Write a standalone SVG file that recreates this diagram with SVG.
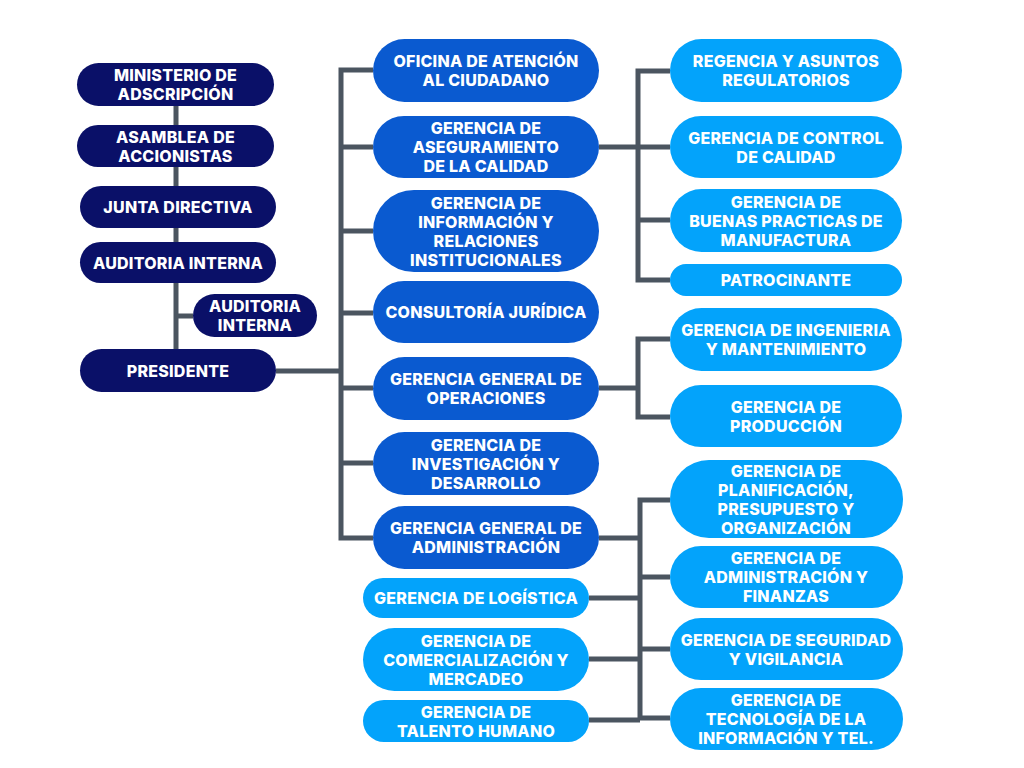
<svg xmlns="http://www.w3.org/2000/svg" width="1024" height="768" viewBox="0 0 1024 768">
<style>
.n{fill:#0a1068}
.m{fill:#0a5ad0}
.l{fill:#03a3fb}
text{font-family:Inter,"Liberation Sans",sans-serif;font-weight:800;font-size:16px;letter-spacing:0.25px;fill:#ffffff;text-anchor:middle}
.c{fill:none;stroke:#4b5560;stroke-width:5;stroke-linejoin:miter}
</style>
<rect width="1024" height="768" fill="#ffffff"/>
<g id="connectors" class="c">
<path d="M176 106V349M176 316H193"/>
<path d="M276 371H341"/>
<path d="M373 70H341V538H373M341 147H373M341 231H373M341 313H373M341 388H373M341 463H373"/>
<path d="M599 147H638M670 71H638V280H670M638 147H670M638 220H670"/>
<path d="M599 388H638M670 339H638V417H670"/>
<path d="M670 500H640V718H670M640 577H670M640 649H670M599 538H640M589 598H640M589 659H640M589 720H640"/>
</g>
<g id="ministerio"><rect class="n" x="77" y="63" width="197" height="43" rx="21.5"/><text x="175.5" y="81">MINISTERIO DE</text><text x="175.5" y="100">ADSCRIPCIÓN</text></g>
<g id="asamblea"><rect class="n" x="77" y="125" width="197" height="42" rx="21"/><text x="175.5" y="142.5">ASAMBLEA DE</text><text x="175.5" y="161.5">ACCIONISTAS</text></g>
<g id="junta"><rect class="n" x="80" y="186" width="196" height="42" rx="21"/><text x="178" y="213">JUNTA DIRECTIVA</text></g>
<g id="auditoria1"><rect class="n" x="80" y="242" width="196" height="41" rx="20.5"/><text x="178" y="268.5">AUDITORIA INTERNA</text></g>
<g id="auditoria2"><rect class="n" x="193" y="294" width="124" height="43" rx="21.5"/><text x="255" y="312">AUDITORIA</text><text x="255" y="331">INTERNA</text></g>
<g id="presidente"><rect class="n" x="80" y="349" width="196" height="43" rx="21.5"/><text x="178" y="376.5">PRESIDENTE</text></g>

<g id="oficina"><rect class="m" x="373" y="39" width="226" height="63" rx="31.5"/><text x="486" y="67">OFICINA DE ATENCIÓN</text><text x="486" y="86">AL CIUDADANO</text></g>
<g id="aseguramiento"><rect class="m" x="373" y="116" width="226" height="62" rx="31"/><text x="486" y="134">GERENCIA DE</text><text x="486" y="153">ASEGURAMIENTO</text><text x="486" y="172">DE LA CALIDAD</text></g>
<g id="informacion"><rect class="m" x="373" y="190" width="226" height="82" rx="41"/><text x="486" y="208.5">GERENCIA DE</text><text x="486" y="227.5">INFORMACIÓN Y</text><text x="486" y="246.5">RELACIONES</text><text x="486" y="265.5">INSTITUCIONALES</text></g>
<g id="consultoria"><rect class="m" x="373" y="281" width="226" height="62" rx="31"/><text x="486" y="318">CONSULTORÍA JURÍDICA</text></g>
<g id="operaciones"><rect class="m" x="373" y="357" width="226" height="63" rx="31.5"/><text x="486" y="385">GERENCIA GENERAL DE</text><text x="486" y="404">OPERACIONES</text></g>
<g id="investigacion"><rect class="m" x="373" y="432" width="226" height="63" rx="31.5"/><text x="486" y="450.5">GERENCIA DE</text><text x="486" y="469.5">INVESTIGACIÓN Y</text><text x="486" y="488.5">DESARROLLO</text></g>
<g id="administracion"><rect class="m" x="373" y="506" width="226" height="63" rx="31.5"/><text x="486" y="534">GERENCIA GENERAL DE</text><text x="486" y="553">ADMINISTRACIÓN</text></g>
<g id="logistica"><rect class="l" x="363" y="578" width="226" height="40" rx="20"/><text x="476" y="604">GERENCIA DE LOGÍSTICA</text></g>
<g id="comercializacion"><rect class="l" x="363" y="628" width="226" height="63" rx="31.5"/><text x="476" y="646.5">GERENCIA DE</text><text x="476" y="665.5">COMERCIALIZACIÓN Y</text><text x="476" y="684.5">MERCADEO</text></g>
<g id="talento"><rect class="l" x="363" y="700" width="226" height="42" rx="21"/><text x="476" y="717.5">GERENCIA DE</text><text x="476" y="736.5">TALENTO HUMANO</text></g>

<g id="regencia"><rect class="l" x="670" y="39" width="232" height="63" rx="31.5"/><text x="786" y="67">REGENCIA Y ASUNTOS</text><text x="786" y="86">REGULATORIOS</text></g>
<g id="control"><rect class="l" x="670" y="116" width="232" height="62" rx="31"/><text x="786" y="143.5">GERENCIA DE CONTROL</text><text x="786" y="162.5">DE CALIDAD</text></g>
<g id="buenas"><rect class="l" x="670" y="189" width="232" height="63" rx="31.5"/><text x="786" y="207.5">GERENCIA DE</text><text x="786" y="226.5">BUENAS PRACTICAS DE</text><text x="786" y="245.5">MANUFACTURA</text></g>
<g id="patrocinante"><rect class="l" x="670" y="264" width="232" height="32" rx="16"/><text x="786" y="286">PATROCINANTE</text></g>
<g id="ingenieria"><rect class="l" x="670" y="308" width="232" height="63" rx="31.5"/><text x="786" y="336">GERENCIA DE INGENIERIA</text><text x="786" y="355">Y MANTENIMIENTO</text></g>
<g id="produccion"><rect class="l" x="670" y="385" width="232" height="62" rx="31"/><text x="786" y="412.5">GERENCIA DE</text><text x="786" y="431.5">PRODUCCIÓN</text></g>
<g id="planificacion"><rect class="l" x="670" y="460" width="233" height="78" rx="39"/><text x="786" y="476.5">GERENCIA DE</text><text x="786" y="495.5">PLANIFICACIÓN,</text><text x="786" y="514.5">PRESUPUESTO Y</text><text x="786" y="533.5">ORGANIZACIÓN</text></g>
<g id="finanzas"><rect class="l" x="670" y="546" width="233" height="62" rx="31"/><text x="786" y="564">GERENCIA DE</text><text x="786" y="583">ADMINISTRACIÓN Y</text><text x="786" y="602">FINANZAS</text></g>
<g id="seguridad"><rect class="l" x="670" y="618" width="233" height="62" rx="31"/><text x="786" y="645.5">GERENCIA DE SEGURIDAD</text><text x="786" y="664.5">Y VIGILANCIA</text></g>
<g id="tecnologia"><rect class="l" x="670" y="688" width="233" height="62" rx="31"/><text x="786" y="706">GERENCIA DE</text><text x="786" y="725">TECNOLOGÍA DE LA</text><text x="786" y="744">INFORMACIÓN Y TEL.</text></g>
</svg>
